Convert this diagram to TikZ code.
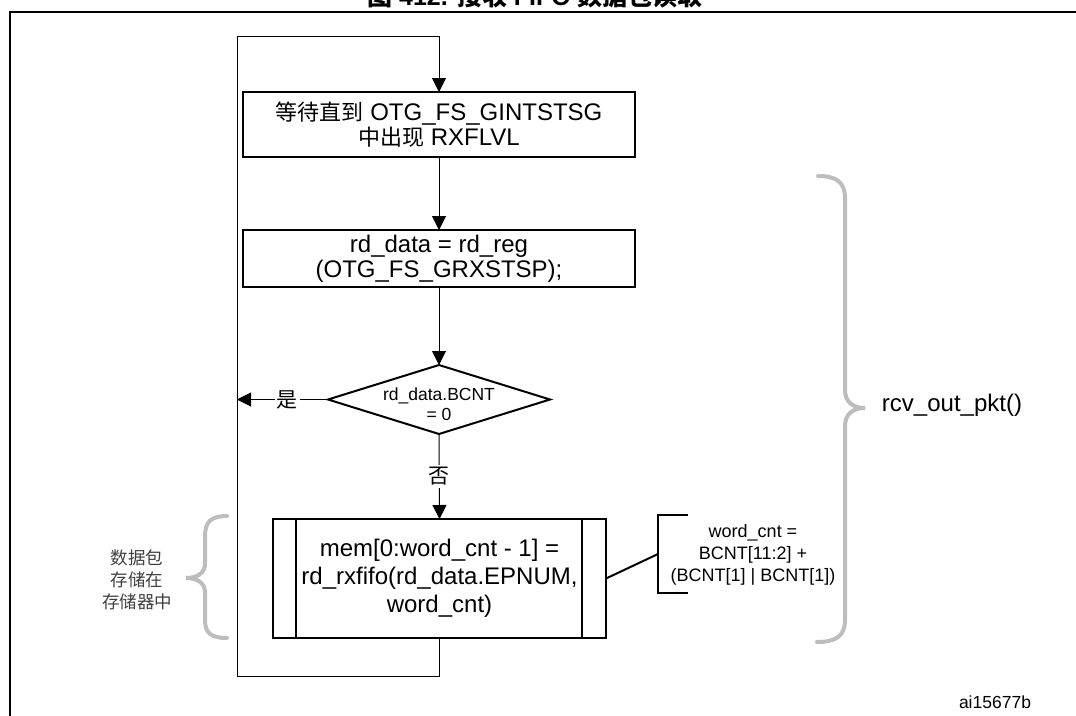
\documentclass[tikz,border=0pt]{standalone}
\usepackage{fontspec}
\setmainfont{Liberation Sans}
\newfontfamily\cjk{Noto Sans CJK SC}
\usetikzlibrary{arrows.meta,shapes.geometric,calc}
\definecolor{figInk}{HTML}{000000}
\definecolor{figBrace}{HTML}{BDBDBD}
\definecolor{figNote}{HTML}{404040}
\newcommand\zh[1]{{\cjk\fontsize{22}{25}\selectfont #1}}

\begin{document}
\begin{tikzpicture}[
  x=1pt,y=-1pt,
  font=\fontsize{24}{25}\selectfont,
  every node/.style={
    text=figInk,align=center,outer sep=0pt
  },
  box/.style={
    draw=figInk,
    line width=2pt,
    minimum width=392pt,
    inner sep=0pt
  },
  decision/.style={
    diamond,
    draw=figInk,
    line width=2pt,
    minimum width=222pt,
    minimum height=69pt,
    inner sep=0pt
  },
  procbox/.style={
    draw=figInk,
    line width=2pt,
    minimum width=333pt,
    minimum height=119pt,
    inner sep=0pt,
    font=\fontsize{24}{28}\selectfont
  },
  flow/.style={
    -{Triangle[length=14pt,width=14pt]},
    draw=figInk,
    line width=1pt
  },
  tag/.style={
    fill=white,
    inner sep=2pt,
    font=\cjk\fontsize{21}{21}\selectfont
  },
  curly/.style={
    draw=figBrace,
    line width=4pt,
    line cap=round
  }
]
\path[use as bounding box] (0,0) rectangle (1076,715);

% Figure title and frame
\node[anchor=base,font=\bfseries\fontsize{25}{25}\selectfont]
  (title) at (535,5)
  {{\cjk 图} 412. {\cjk 接收} FIFO {\cjk 数据包读取}};

\draw[line width=2pt] (10,716) -- (10,12) -- (1077,12);

% Flow boxes
\node[box,minimum height=65pt] (wait) at (439,124.5)
  {\zh{等待直到} OTG\_FS\_GINTSTSG\\
   \zh{中出现} RXFLVL};

\node[box,minimum height=57pt] (read) at (439,258.5)
  {rd\_data = rd\_reg\\
   (OTG\_FS\_GRXSTSP);};

\node[decision] (check) at (439,399.5) {};
\node[font=\fontsize{17.5}{20}\selectfont]
  (checktxt) at ($(check.center)+(0,5)$)
  {rd\_data.BCNT\\= 0};

\node[procbox] (store) at (439.5,578.5)
  {mem[0:word\_cnt - 1] =\\
   rd\_rxfifo(rd\_data.EPNUM,\\
   word\_cnt)};

\draw[line width=2pt]
  ($(store.north west)+(23,0)$) -- ($(store.south west)+(23,0)$);
\draw[line width=2pt]
  ($(store.north east)+(-24,0)$) -- ($(store.south east)+(-24,0)$);

% Main flow
\draw[flow] (wait.south) -- (read.north);
\draw[flow] (read.south) -- (check.north);
\draw[flow] (check.south) -- (store.north)
  node[tag,pos=0.5] {否};

% Loop back to the wait box
\coordinate (loopBL) at (237,676);
\coordinate (loopTL) at (237,36);

\draw[flow]
  (store.south) |- (loopBL)
  -- (loopTL)
  -| (wait.north);

\draw[flow] (check.west) -- (check.west -| loopTL)
  node[tag,pos=0.45] {是};

% Word count note
\node[font=\fontsize{18}{22}\selectfont]
  (formula) at (753,555)
  {word\_cnt =\\
   BCNT[11:2] +\\
   (BCNT[1] | BCNT[1])};

\coordinate (fMid) at (658,554);
\draw[line width=2pt]
  (688,515) -- (658,515) -- (658,593) -- (688,593);
\draw[line width=2pt] (store.east) -- (fMid);

% Left brace: data stored
\draw[curly]
  (227,516) .. controls (211,516) and (205,522) .. (205,536)
  -- (205,564) .. controls (205,573) and (197,578) .. (186,578)
  .. controls (197,578) and (205,583) .. (205,592)
  -- (205,620) .. controls (205,633) and (211,638) .. (227,638);

\node[text=figNote,font=\cjk\fontsize{17.5}{22}\selectfont]
  (storenote) at (137,580)
  {数据包\\存储在\\存储器中};

% Right brace: rcv_out_pkt()
\draw[curly]
  (818,176) .. controls (836,176) and (845,182) .. (845,198)
  -- (845,390) .. controls (845,401) and (852,408) .. (865,408)
  .. controls (852,408) and (845,415) .. (845,426)
  -- (845,620) .. controls (845,636) and (836,642) .. (817,642);

\node (pktlabel) at (952,405) {rcv\_out\_pkt()};

\node[font=\fontsize{17.5}{20}\selectfont] (figid) at (995,702) {ai15677b};

\end{tikzpicture}
\end{document}
